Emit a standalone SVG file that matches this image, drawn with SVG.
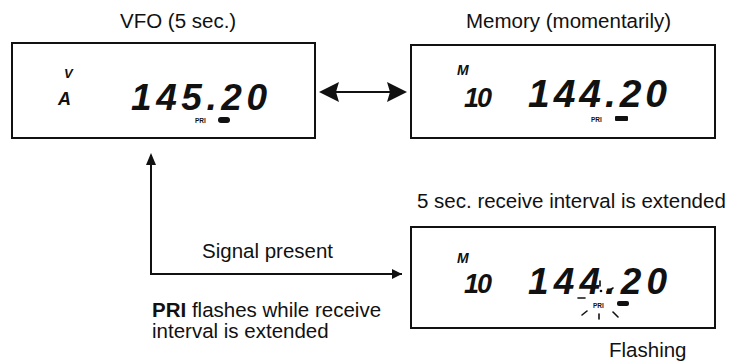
<svg xmlns="http://www.w3.org/2000/svg" width="738" height="364" viewBox="0 0 738 364">
<defs>
<style>
.lbl{font-family:"Liberation Sans",Arial,sans-serif;font-size:20.5px;fill:#111}
.box{fill:#fff;stroke:#111;stroke-width:2}
.lcd{font-family:"Liberation Sans",Arial,sans-serif;font-style:italic;font-weight:700;fill:#111}
.pri{font-family:"Liberation Sans",Arial,sans-serif;font-weight:700;font-size:6.5px;fill:#111}
.conn{stroke:#111;stroke-width:2;fill:none}
.ray{stroke:#111;stroke-width:1.6;stroke-linecap:round}
</style>
<marker id="ah" viewBox="0 0 10 10" refX="10" refY="5" markerWidth="10" markerHeight="10" markerUnits="userSpaceOnUse" orient="auto">
<path d="M0,0 L10,5 L0,10 z" fill="#111"/>
</marker>
</defs>
<rect width="738" height="364" fill="#fff"/>

<text class="lbl" x="120" y="28">VFO (5 sec.)</text>
<text class="lbl" x="466" y="28">Memory (momentarily)</text>
<text class="lbl" x="417" y="208">5 sec. receive interval is extended</text>
<text class="lbl" x="202" y="258">Signal present</text>
<text class="lbl" x="152" y="317"><tspan font-weight="700">PRI</tspan> flashes while receive</text>
<text class="lbl" x="152" y="338">interval is extended</text>
<text class="lbl" x="609" y="357">Flashing</text>

<g id="vfo">
<rect class="box" x="12" y="43" width="303" height="95"/>
<text class="lcd" x="64" y="78" font-size="13">V</text>
<text class="lcd" x="58" y="105" font-size="18">A</text>
<text class="lcd" x="131" y="110" font-size="37" textLength="136" lengthAdjust="spacing">145.20</text>
<text class="pri" x="195" y="123">PRI</text>
<rect x="218" y="117" width="12" height="6" rx="3" fill="#111"/>
</g>

<g id="memory">
<rect class="box" x="411" y="45" width="304" height="93"/>
<text class="lcd" x="457" y="75" font-size="14">M</text>
<text class="lcd" x="464" y="107" font-size="27" textLength="28" lengthAdjust="spacing">10</text>
<text class="lcd" x="528" y="107" font-size="39" textLength="139" lengthAdjust="spacing">144.20</text>
<text class="pri" x="591" y="122">PRI</text>
<rect x="615" y="116" width="13" height="5" rx="1" fill="#111"/>
</g>

<g id="extended">
<rect class="box" x="411" y="227" width="304" height="101"/>
<text class="lcd" x="457" y="263" font-size="14">M</text>
<text class="lcd" x="464" y="293" font-size="27" textLength="28" lengthAdjust="spacing">10</text>
<text class="lcd" x="528" y="294" font-size="37" textLength="139" lengthAdjust="spacing">144.20</text>
<text class="pri" x="593" y="308">PRI</text>
<rect x="617" y="301" width="12" height="5" rx="2" fill="#111"/>
<g id="rays">
<line class="ray" x1="600" y1="281" x2="600" y2="286"/>
<circle cx="601" cy="291" r="1.3" fill="#111"/>
<line class="ray" x1="578" y1="298" x2="585" y2="298"/>
<line class="ray" x1="607" y1="292" x2="613" y2="288"/>
<line class="ray" x1="582" y1="315" x2="587" y2="311"/>
<line class="ray" x1="599" y1="314" x2="599" y2="319"/>
<line class="ray" x1="613" y1="312" x2="618" y2="317"/>
</g>
</g>

<g id="connectors">
<line class="conn" x1="334" y1="92" x2="391" y2="92" stroke-width="4"/>
<path d="M319,92 L339,82 L336,92 L339,102 z" fill="#111"/>
<path d="M407,92 L387,82 L390,92 L387,102 z" fill="#111"/>
<path class="conn" d="M151,155 L151,274 L402,274" marker-end="url(#ah)"/>
<path d="M151,153 L146,165 L156,165 z" fill="#111"/>
</g>
</svg>
